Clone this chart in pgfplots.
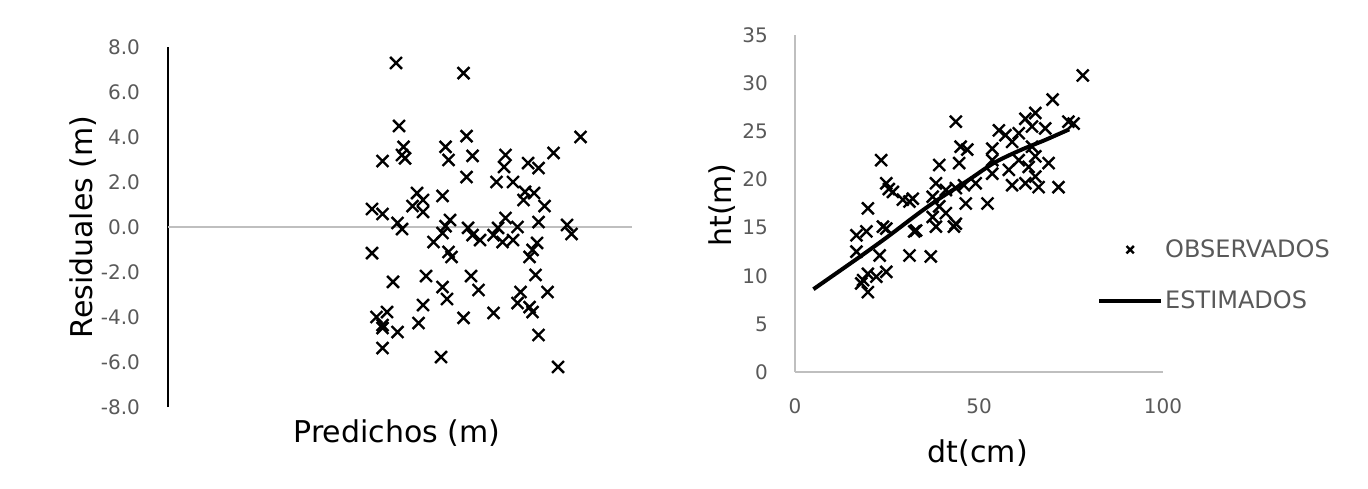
\documentclass[border=0pt]{standalone}
\usepackage{fontspec}
\setmainfont{DejaVu Sans}
\usepackage{pgfplots}
\pgfplotsset{compat=1.18}
\definecolor{axgray}{HTML}{BFBFBF}
\definecolor{txtgray}{HTML}{595959}

\pgfplotsset{
  common/.style={
    scale only axis, anchor=south west,
    major tick length=0pt,
    /pgf/number format/assume math mode=true,
    tick label style={font=\fontsize{10}{12}\selectfont, text=txtgray},
    label style={font=\fontsize{15}{18}\selectfont, text=black},
    clip=false,
  },
  obs/.style={only marks, mark=x, mark size=4.2pt, black, mark options={line width=1.2pt}},
  obsleg/.style={legend image code/.code={\draw[##1, mark size=2.6pt] plot coordinates {(15.5pt,0pt)};}},
  lineleg/.style={legend image code/.code={\draw[##1] (0pt,0pt) -- (31pt,0pt);}},
}

\begin{document}
\begin{tikzpicture}[x=1pt,y=1pt]
\useasboundingbox (0,0) rectangle (684,244);

% residuals vs predicted
\begin{axis}[common,
  at={(84pt,40.5pt)}, width=232pt, height=180pt,
  xmin=0, xmax=30.93, ymin=-8, ymax=8,
  axis x line=bottom, axis y line=left,
  x axis line style={draw=none},
  y axis line style={-, black, line width=0.75pt},
  xtick=\empty,
  ytick={-8,-6,...,8},
  yticklabels={-8.0,-6.0,-4.0,-2.0,0.0,2.0,4.0,6.0,8.0},
  yticklabel style={xshift=-10.5pt},
  ylabel={Residuales (m)},
  ylabel style={at={(axis description cs:-0.183,0.5)}, anchor=center},
  xlabel={Predichos (m)},
  xlabel style={at={(axis description cs:0.4935,-0.072)}, anchor=center},
]
\addplot[axgray, line width=1pt, forget plot] coordinates {(0,0) (30.93,0)};
\addplot[obs] coordinates {
(15.2,7.29) (19.7,6.84) (15.4,4.49) (27.5,4.0) (19.9,4.04) (15.7,3.56)
(15.6,3.2) (15.8,3.05) (14.3,2.93) (18.5,3.56) (18.7,2.98) (20.3,3.16)
(22.5,3.2) (22.4,2.67) (24.0,2.84) (24.7,2.62) (25.7,3.29) (19.9,2.22)
(21.9,2.0) (23.0,2.0) (23.8,1.56) (23.7,1.2) (24.4,1.51) (25.1,0.93)
(16.6,1.51) (17.0,1.2) (16.3,0.93) (17.0,0.67) (18.3,1.38) (13.6,0.8)
(14.3,0.58) (15.3,0.18) (15.6,-0.09) (18.8,0.31) (18.5,0.04) (20.0,-0.04)
(22.5,0.4) (22.0,-0.04) (23.3,0.0) (24.7,0.22) (26.6,0.09) (26.9,-0.31)
(18.3,-0.27) (17.7,-0.67) (20.3,-0.36) (20.8,-0.58) (21.7,-0.36) (22.3,-0.67)
(23.0,-0.58) (24.6,-0.71) (24.3,-1.02) (24.1,-1.33) (13.6,-1.16) (18.7,-1.11)
(18.9,-1.33) (15.0,-2.44) (17.2,-2.18) (20.2,-2.18) (18.3,-2.67) (18.6,-3.2)
(20.7,-2.8) (24.5,-2.13) (25.3,-2.89) (23.5,-2.89) (23.3,-3.38) (24.1,-3.56)
(24.3,-3.78) (17.0,-3.47) (13.9,-4.0) (14.6,-3.78) (14.3,-4.36) (15.3,-4.67)
(14.3,-4.49) (16.7,-4.27) (19.7,-4.04) (21.7,-3.82) (14.3,-5.38) (18.2,-5.78)
(24.7,-4.8) (26.0,-6.22)
};
\end{axis}

% observed vs estimated height
\begin{axis}[common,
  at={(397.5pt,58pt)}, width=184pt, height=168.5pt,
  xmin=0, xmax=100, ymin=0, ymax=35,
  axis lines=left,
  axis line style={-, axgray, line width=1pt},
  xtick={0,50,100}, ytick={0,5,...,35},
  yticklabel style={xshift=-10pt},
  xticklabel style={yshift=-10pt},
  ylabel={ht(m)},
  ylabel style={at={(axis description cs:-0.198,0.4955)}, anchor=center},
  xlabel={dt(cm)},
  xlabel style={at={(axis description cs:0.497,-0.240)}, anchor=center},
  legend style={at={(axis description cs:0.82,0.401)}, anchor=north west,
    draw=none, fill=none, inner sep=0pt, row sep=13.5pt,
    font=\fontsize{12}{14}\selectfont, text=txtgray,
    nodes={inner sep=1pt}},
  legend cell align=left,
]
\addplot[obs, obsleg] coordinates {
(78.2,30.8) (70.0,28.3) (43.7,26.0) (62.6,26.3) (65.3,26.9) (74.3,26.0)
(75.7,25.8) (55.4,25.1) (57.2,24.6) (60.8,24.8) (64.4,25.5) (68.0,25.3)
(53.6,23.2) (59.0,23.9) (64.4,23.4) (45.0,23.4) (46.8,23.1) (23.4,22.0)
(39.2,21.5) (44.6,21.7) (53.6,22.0) (60.8,22.0) (65.3,22.4) (68.9,21.7)
(58.1,21.0) (53.6,20.6) (63.5,21.3) (65.3,20.3) (59.0,19.4) (62.6,19.6)
(66.2,19.2) (71.6,19.2) (24.8,19.6) (26.6,18.7) (25.5,19.0) (38.3,19.6)
(41.0,18.9) (45.9,19.4) (49.1,19.6) (43.7,19.1) (29.3,17.9) (32.0,18.0)
(37.4,18.2) (46.4,17.5) (52.3,17.5) (19.8,17.0) (39.2,17.2) (37.4,16.1)
(41.0,16.5) (43.7,15.4) (38.3,15.1) (32.4,14.6) (16.7,14.2) (19.4,14.6)
(23.9,15.1) (31.1,17.7) (24.8,14.9) (16.7,12.5) (23.0,12.1) (31.1,12.1)
(36.9,12.0) (19.8,10.2) (24.8,10.4) (18.5,9.55) (22.1,9.9) (19.8,8.3)
(18.0,9.2) (32.9,14.7) (43.2,15.1)
};
\addlegendentry{OBSERVADOS}
\addplot[black, line width=2pt, smooth, lineleg] coordinates {
(5,8.6) (17,11.8) (25,14.0) (34,16.6) (40,18.2) (47,19.9) (54,21.7)
(61,23.0) (68,24.1) (74.5,25.2)
};
\addlegendentry{ESTIMADOS}
\end{axis}
\end{tikzpicture}
\end{document}
